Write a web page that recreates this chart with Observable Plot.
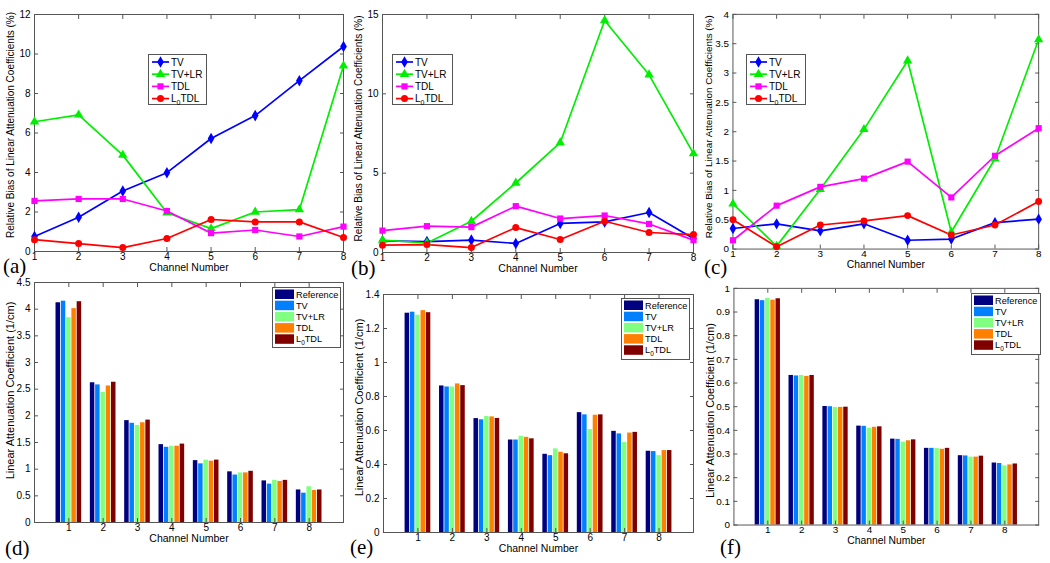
<!DOCTYPE html>
<html><head><meta charset="utf-8">
<script src="https://cdn.jsdelivr.net/npm/d3@7"></script>
<script src="https://cdn.jsdelivr.net/npm/@observablehq/plot@0.6"></script>
<style>
body{margin:0;background:#fff;}
#fig{position:relative;width:1050px;height:563px;overflow:hidden;background:#fff;font-family:"Liberation Sans",Arial,sans-serif;}
.panel{position:absolute;}
.tag{position:absolute;font-family:"Liberation Serif","Times New Roman",serif;font-size:21px;line-height:1;color:#000;}
</style></head><body><div id="fig"></div>
<script>
// ---------- data ----------
const channels = [1, 2, 3, 4, 5, 6, 7, 8];
const lineMethods = ["TV", "TV+LR", "TDL", "L0TDL"];
const barMethods = ["Reference", "TV", "TV+LR", "TDL", "L0TDL"];

// (a) relative bias (%)
const biasA_TV    = [0.76, 1.73, 3.06, 3.99, 5.72, 6.88, 8.65, 10.38];
const biasA_TVLR  = [6.57, 6.92, 4.88, 1.96, 1.16, 2.00, 2.12, 9.40];
const biasA_TDL   = [2.56, 2.66, 2.66, 2.05, 0.93, 1.09, 0.76, 1.26];
const biasA_L0TDL = [0.60, 0.40, 0.20, 0.66, 1.62, 1.50, 1.50, 0.71];
// (b)
const biasB_TV    = [0.73, 0.69, 0.78, 0.57, 1.83, 1.93, 2.52, 0.88];
const biasB_TVLR  = [0.78, 0.60, 1.97, 4.38, 6.92, 14.62, 11.2, 6.23];
const biasB_TDL   = [1.38, 1.66, 1.60, 2.92, 2.14, 2.33, 1.80, 0.78];
const biasB_L0TDL = [0.46, 0.50, 0.31, 1.57, 0.82, 1.97, 1.26, 1.13];
// (c)
const biasC_TV    = [0.35, 0.43, 0.31, 0.43, 0.15, 0.17, 0.45, 0.51];
const biasC_TVLR  = [0.77, 0.05, 1.02, 2.04, 3.21, 0.29, 1.54, 3.57];
const biasC_TDL   = [0.15, 0.74, 1.06, 1.20, 1.49, 0.88, 1.59, 2.06];
const biasC_L0TDL = [0.50, 0.04, 0.41, 0.48, 0.57, 0.24, 0.41, 0.81];

// (d) linear attenuation coefficient (1/cm)
const coefD_Ref   = [4.12, 2.62, 1.91, 1.46, 1.16, 0.95, 0.78, 0.61];
const coefD_TV    = [4.15, 2.58, 1.86, 1.41, 1.10, 0.89, 0.72, 0.55];
const coefD_TVLR  = [3.84, 2.44, 1.82, 1.43, 1.17, 0.93, 0.79, 0.67];
const coefD_TDL   = [4.01, 2.56, 1.87, 1.43, 1.15, 0.93, 0.77, 0.60];
const coefD_L0TDL = [4.14, 2.63, 1.92, 1.47, 1.17, 0.96, 0.79, 0.61];
// (e)
const coefE_Ref   = [1.290, 0.862, 0.670, 0.544, 0.460, 0.705, 0.595, 0.478];
const coefE_TV    = [1.296, 0.856, 0.663, 0.544, 0.452, 0.692, 0.580, 0.476];
const coefE_TVLR  = [1.278, 0.856, 0.682, 0.566, 0.492, 0.605, 0.530, 0.452];
const coefE_TDL   = [1.305, 0.874, 0.680, 0.560, 0.472, 0.690, 0.585, 0.482];
const coefE_L0TDL = [1.293, 0.864, 0.671, 0.551, 0.463, 0.692, 0.589, 0.482];
// (f)
const coefF_Ref   = [0.952, 0.632, 0.501, 0.418, 0.363, 0.324, 0.293, 0.262];
const coefF_TV    = [0.948, 0.630, 0.500, 0.417, 0.362, 0.324, 0.292, 0.260];
const coefF_TVLR  = [0.958, 0.632, 0.497, 0.409, 0.350, 0.323, 0.287, 0.250];
const coefF_TDL   = [0.950, 0.628, 0.497, 0.413, 0.356, 0.320, 0.287, 0.254];
const coefF_L0TDL = [0.956, 0.632, 0.498, 0.415, 0.360, 0.324, 0.291, 0.258];

// tick labels
const yTicksA = [0, 2, 4, 6, 8, 10, 12];
const yTicksB = [0, 5, 10, 15];
const yTicksC = [0, 0.5, 1, 1.5, 2, 2.5, 3, 3.5, 4];
const yTicksD = [0, 0.5, 1, 1.5, 2, 2.5, 3, 3.5, 4, 4.5];
const yTicksE = [0, 0.2, 0.4, 0.6, 0.8, 1, 1.2, 1.4];
const yTicksF = [0, 0.1, 0.2, 0.3, 0.4, 0.5, 0.6, 0.7, 0.8, 0.9, 1];

const xLabel = "Channel Number";
const yLabelTop = "Relative Bias of Linear Attenuation Coefficients (%)";
const yLabelBottom = "Linear Attenuation Coefficient (1/cm)";

// ---------- styles ----------
const lineColors = ["#0000FF", "#00EE00", "#FF00FF", "#FF0000"];
const lineSymbols = ["diamond", "triangle", "square", "circle"];
const barColors = ["#000080", "#0080FF", "#80FF80", "#FF8000", "#800000"];
const FONT = '"Liberation Sans", Arial, sans-serif';
const AXIS = "#555";

const fig = document.getElementById("fig");
const fmt = d => String(d);

function place(node, left, top) {
  const div = document.createElement("div");
  div.className = "panel";
  div.style.left = left + "px";
  div.style.top = top + "px";
  div.appendChild(node);
  fig.appendChild(div);
}

function commonAxes(xTicks, yTicks, xPad) {
  return [
    Plot.frame({stroke: AXIS, strokeWidth: 1}),
    Plot.axisX({ticks: xTicks, tickSize: -4, tickPadding: xPad, tickFormat: fmt, label: null, stroke: AXIS, fill: "#000"}),
    Plot.axisX({anchor: "top", ticks: xTicks, tickSize: -4, tickFormat: () => "", label: null, stroke: AXIS}),
    Plot.axisY({ticks: yTicks, tickSize: -4, tickPadding: 8, tickFormat: fmt, label: null, stroke: AXIS, fill: "#000"}),
    Plot.axisY({anchor: "right", ticks: yTicks, tickSize: -4, tickFormat: () => "", label: null, stroke: AXIS})
  ];
}

function linePanel(frame, yDomain, yTicks, series, labelShift) {
  const [x0, x1, y0, y1] = frame;
  const mL = 40, mR = 12, mT = 10, mB = 34;
  const data = [];
  series.forEach((vals, i) => vals.forEach((v, j) => data.push({method: lineMethods[i], channel: channels[j], value: v})));
  const svg = Plot.plot({
    width: x1 - x0 + mL + mR, height: y1 - y0 + mT + mB,
    marginLeft: mL, marginRight: mR, marginTop: mT, marginBottom: mB,
    x: {domain: [1, 8]}, y: {domain: yDomain},
    color: {domain: lineMethods, range: lineColors},
    symbol: {domain: lineMethods, range: lineSymbols},
    style: {fontFamily: FONT, fontSize: "10px", color: "#000", background: "none", overflow: "visible"},
    marks: [
      ...commonAxes(channels, yTicks, 5),
      Plot.line(data, {x: "channel", y: "value", z: "method", stroke: "method", strokeWidth: 1.7}),
      Plot.dot(data, {x: "channel", y: "value", symbol: "method", fill: "method", r: 3.5}),
      Plot.text([xLabel], {text: d => d, frameAnchor: "bottom", dy: 19, fontSize: 10.5, fill: "#000"}),
      Plot.text([yLabelTop], {text: d => d, frameAnchor: "left", textAnchor: "middle", dx: -24, dy: labelShift, rotate: -90, fontSize: 10, fill: "#000"})
    ]
  });
  place(svg, x0 - mL, y0 - mT);
}

function barPanel(frame, yDomain, yTicks, series, labelShift) {
  const [x0, x1, y0, y1] = frame;
  const mL = 40, mR = 12, mT = 10, mB = 34;
  const groupWidth = 0.77, n = barMethods.length;
  const slot = groupWidth / n, barW = slot * 0.85;
  const data = [];
  series.forEach((vals, i) => vals.forEach((v, j) => {
    const c = channels[j] + (i - (n - 1) / 2) * slot;
    data.push({method: barMethods[i], channel: channels[j], value: v, left: c - barW / 2, right: c + barW / 2});
  }));
  const svg = Plot.plot({
    width: x1 - x0 + mL + mR, height: y1 - y0 + mT + mB,
    marginLeft: mL, marginRight: mR, marginTop: mT, marginBottom: mB,
    x: {domain: [0, 9]}, y: {domain: yDomain},
    color: {domain: barMethods, range: barColors},
    style: {fontFamily: FONT, fontSize: "10px", color: "#000", background: "none", overflow: "visible"},
    marks: [
      Plot.rectY(data, {x1: "left", x2: "right", y1: 0, y2: "value", fill: "method"}),
      ...commonAxes(channels, yTicks, 5),
      Plot.text([xLabel], {text: d => d, frameAnchor: "bottom", dy: 19, fontSize: 10.5, fill: "#000"}),
      Plot.text([yLabelBottom], {text: d => d, frameAnchor: "left", textAnchor: "middle", dx: -24, dy: labelShift, rotate: -90, fontSize: 11, fill: "#000"})
    ]
  });
  place(svg, x0 - mL, y0 - mT);
}

function methodLabel(sel, name) {
  if (name === "L0TDL") {
    sel.append("tspan").text("L");
    sel.append("tspan").attr("font-size", "0.7em").attr("dy", 3).text("0");
    sel.append("tspan").attr("dy", -3).text("TDL");
  } else sel.text(name);
}

function lineLegend(left, top, w, h) {
  const svg = d3.create("svg").attr("width", w + 2).attr("height", h + 2).style("overflow", "visible");
  svg.append("rect").attr("x", 0.5).attr("y", 0.5).attr("width", w).attr("height", h).attr("fill", "#fff").attr("stroke", AXIS);
  lineMethods.forEach((m, i) => {
    const y = 8 + i * 12.2;
    svg.append("line").attr("x1", 4).attr("x2", 21).attr("y1", y).attr("y2", y).attr("stroke", lineColors[i]).attr("stroke-width", 1.7);
    svg.append("path").attr("transform", `translate(12.5,${y})`).attr("d", d3.symbol(
      {diamond: d3.symbolDiamond, triangle: d3.symbolTriangle, square: d3.symbolSquare, circle: d3.symbolCircle}[lineSymbols[i]], Math.PI * 3.5 * 3.5)()).attr("fill", lineColors[i]);
    const t = svg.append("text").attr("x", 23).attr("y", y).attr("dy", "0.35em").attr("font-family", FONT).attr("font-size", 10).attr("fill", "#000");
    methodLabel(t, m);
  });
  place(svg.node(), left, top);
}

function barLegend(left, top, w, h) {
  const svg = d3.create("svg").attr("width", w + 2).attr("height", h + 2).style("overflow", "visible");
  svg.append("rect").attr("x", 0.5).attr("y", 0.5).attr("width", w).attr("height", h).attr("fill", "#fff").attr("stroke", AXIS);
  barMethods.forEach((m, i) => {
    const y = 2.5 + i * 11.2;
    svg.append("rect").attr("x", 3).attr("y", y).attr("width", 19).attr("height", 9.5).attr("fill", barColors[i]);
    const t = svg.append("text").attr("x", 24).attr("y", y + 4.8).attr("dy", "0.35em").attr("font-family", FONT).attr("font-size", 9.2).attr("fill", "#000");
    methodLabel(t, m);
  });
  place(svg.node(), left, top);
}

function tag(text, left, top) {
  const d = document.createElement("div");
  d.className = "tag";
  d.textContent = text;
  d.style.left = left + "px";
  d.style.top = top + "px";
  fig.appendChild(d);
}

// ---------- panels ----------
linePanel([34, 343, 14, 251], [0, 12], yTicksA, [biasA_TV, biasA_TVLR, biasA_TDL, biasA_L0TDL], -8);
linePanel([382, 693, 14, 252], [0, 15], yTicksB, [biasB_TV, biasB_TVLR, biasB_TDL, biasB_L0TDL], -5);
linePanel([733, 1043, 14, 252], [0, 4], yTicksC, [biasC_TV, biasC_TVLR, biasC_TDL, biasC_L0TDL], -5);
barPanel([34, 343, 282, 522], [0, 4.5], yTicksD, [coefD_Ref, coefD_TV, coefD_TVLR, coefD_TDL, coefD_L0TDL], -12);
barPanel([383, 693, 294, 532], [0, 1.4], yTicksE, [coefE_Ref, coefE_TV, coefE_TVLR, coefE_TDL, coefE_L0TDL], -6);
barPanel([734, 1043, 288, 528], [0, 1], yTicksF, [coefF_Ref, coefF_TV, coefF_TVLR, coefF_TDL, coefF_L0TDL], 4);

lineLegend(148, 54, 58, 50);
lineLegend(392, 54, 60, 50);
lineLegend(746, 54, 59, 50);
barLegend(272, 287, 68, 60);
barLegend(621, 298, 68, 61);
barLegend(971, 293, 69, 61);

tag("(a)", 3, 256);
tag("(b)", 351, 258);
tag("(c)", 704, 257);
tag("(d)", 5, 538);
tag("(e)", 350, 537);
tag("(f)", 720, 537);
</script></body></html>
